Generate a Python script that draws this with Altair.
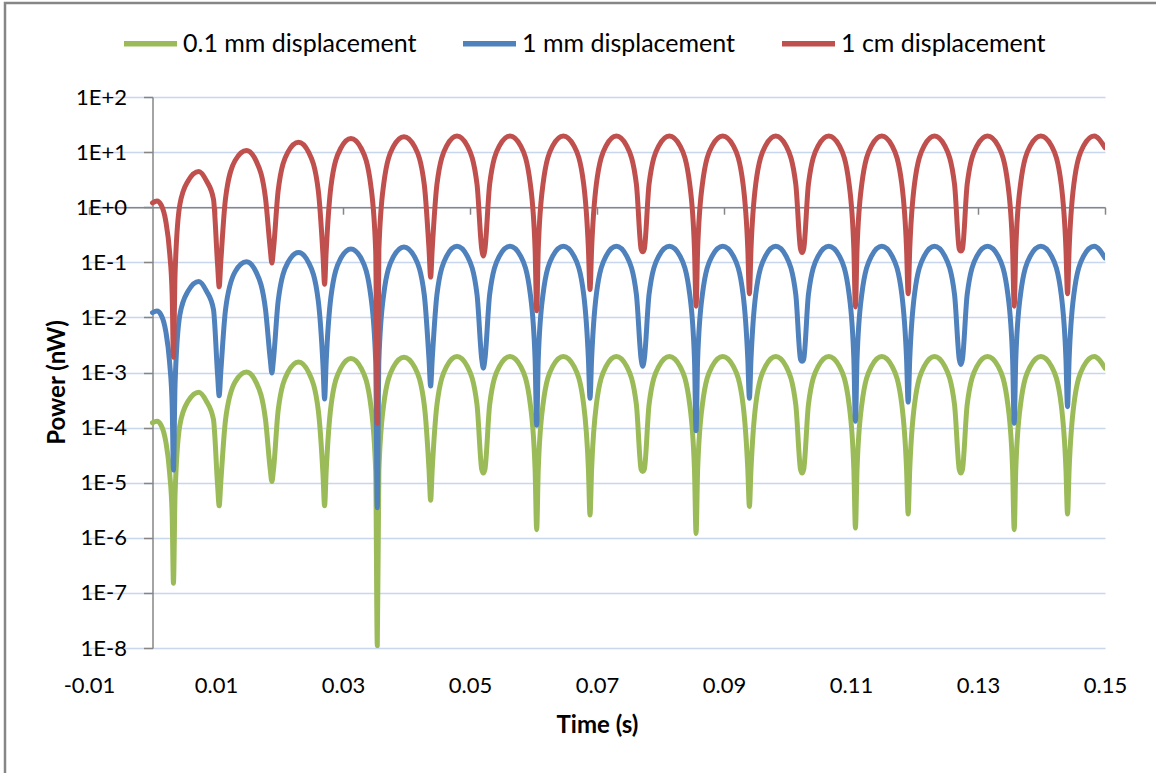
import altair as alt
import pandas as pd

# ---------------- data ----------------
SERIES = ["0.1 mm displacement", "1 mm displacement", "1 cm displacement"]
COLORS = ["#9BBB59", "#4F81BD", "#C0504D"]

TIME_S = [
    0.0, 0.0007, 0.0014, 0.0021, 0.0027, 0.0031,
    0.0033, 0.00355, 0.0043, 0.0056, 0.0073, 0.0085, 0.0096, 0.01025,
    0.0105, 0.01075, 0.0115, 0.0130, 0.0148, 0.0163, 0.0178, 0.01855,
    0.0188, 0.01905, 0.0198, 0.0213, 0.0230, 0.0246, 0.0261, 0.02685,
    0.0271, 0.02735, 0.0281, 0.0296, 0.03125, 0.0329, 0.0344, 0.03515,
    0.0354, 0.03565, 0.0364, 0.0379, 0.0396, 0.0413, 0.0428, 0.04355,
    0.0438, 0.04405, 0.0448, 0.0463, 0.04795, 0.0496, 0.0511, 0.05185,
    0.0521, 0.05235, 0.0531, 0.0546, 0.0563, 0.0580, 0.0595, 0.06025,
    0.0605, 0.06075, 0.0615, 0.0630, 0.0647, 0.0664, 0.0679, 0.06865,
    0.0689, 0.06915, 0.0699, 0.0714, 0.07305, 0.0747, 0.0762, 0.07695,
    0.0772, 0.07745, 0.0782, 0.0797, 0.0814, 0.0831, 0.0846, 0.08535,
    0.0856, 0.08585, 0.0866, 0.0881, 0.0898, 0.0915, 0.0930, 0.09375,
    0.0940, 0.09425, 0.0950, 0.0965, 0.09815, 0.0998, 0.1013, 0.10205,
    0.1023, 0.10255, 0.1033, 0.1048, 0.1065, 0.1082, 0.1097, 0.11045,
    0.1107, 0.11095, 0.1117, 0.1132, 0.11485, 0.1165, 0.1180, 0.11875,
    0.1190, 0.11925, 0.1200, 0.1215, 0.12315, 0.1248, 0.1263, 0.12705,
    0.1273, 0.12755, 0.1283, 0.1298, 0.1315, 0.1332, 0.1347, 0.13545,
    0.1357, 0.13595, 0.1367, 0.1382, 0.1399, 0.1416, 0.1431, 0.14385,
    0.1441, 0.14435, 0.1451, 0.1466, 0.1483, 0.1500,
]

POWER_01MM = [
    1.22e-4, 1.3e-4, 1.08e-4, 5.5e-5, 1.5e-5, 2.5e-6,
    1.5e-7, 6e-6, 1.1e-4, 3.0e-4, 4.4e-4, 3.0e-4, 1.4e-4, 9e-6,
    3.8e-6, 1e-5, 1.38e-4, 6.7e-4, 1.02e-3, 6.7e-4, 1.38e-4, 1.7e-5,
    1.05e-5, 1.7e-5, 2.1e-4, 1.0e-3, 1.55e-3, 1.0e-3, 2.1e-4, 1.4e-5,
    3.8e-6, 1.6e-5, 2.43e-4, 1.18e-3, 1.8e-3, 1.18e-3, 2.43e-4, 1.6e-5,
    1.1e-8, 1.69e-5, 2.57e-4, 1.24e-3, 1.9e-3, 1.24e-3, 2.57e-4, 1.69e-5,
    4.8e-6, 1.74e-5, 2.63e-4, 1.28e-3, 1.95e-3, 1.28e-3, 2.63e-4, 1.74e-5,
    1.5e-5, 1.74e-5, 2.63e-4, 1.28e-3, 1.95e-3, 1.28e-3, 2.63e-4, 1.74e-5,
    1.4e-6, 1.74e-5, 2.63e-4, 1.28e-3, 1.95e-3, 1.28e-3, 2.63e-4, 1.74e-5,
    2.6e-6, 1.74e-5, 2.63e-4, 1.28e-3, 1.95e-3, 1.28e-3, 2.63e-4, 1.74e-5,
    1.6e-5, 1.74e-5, 2.63e-4, 1.28e-3, 1.95e-3, 1.28e-3, 2.63e-4, 1.74e-5,
    1.2e-6, 1.74e-5, 2.63e-4, 1.28e-3, 1.95e-3, 1.28e-3, 2.63e-4, 1.74e-5,
    3.7e-6, 1.74e-5, 2.63e-4, 1.28e-3, 1.95e-3, 1.28e-3, 2.63e-4, 1.74e-5,
    1.5e-5, 1.74e-5, 2.63e-4, 1.28e-3, 1.95e-3, 1.28e-3, 2.63e-4, 1.74e-5,
    1.5e-6, 1.74e-5, 2.63e-4, 1.28e-3, 1.95e-3, 1.28e-3, 2.63e-4, 1.74e-5,
    2.7e-6, 1.74e-5, 2.63e-4, 1.28e-3, 1.95e-3, 1.28e-3, 2.63e-4, 1.74e-5,
    1.5e-5, 1.74e-5, 2.63e-4, 1.28e-3, 1.95e-3, 1.28e-3, 2.63e-4, 1.74e-5,
    1.4e-6, 1.74e-5, 2.63e-4, 1.28e-3, 1.95e-3, 1.28e-3, 2.63e-4, 1.74e-5,
    2.7e-6, 1.74e-5, 2.63e-4, 1.28e-3, 1.95e-3, 1.2e-3,
]

POWER_1MM = [
    0.0122, 0.013, 0.0108, 0.0055, 0.0015, 2.5e-4,
    1.7e-5, 6e-4, 0.011, 0.030, 0.045, 0.030, 0.014, 9e-4,
    3.8e-4, 1e-3, 0.0138, 0.067, 0.102, 0.067, 0.0138, 1.7e-3,
    9.8e-4, 1.7e-3, 0.0203, 0.098, 0.15, 0.098, 0.0203, 1.34e-3,
    3.3e-4, 1.56e-3, 0.0236, 0.115, 0.175, 0.115, 0.0236, 1.56e-3,
    3.5e-6, 1.69e-3, 0.0257, 0.124, 0.19, 0.124, 0.0257, 1.69e-3,
    5.7e-4, 1.74e-3, 0.0263, 0.128, 0.195, 0.128, 0.0263, 1.74e-3,
    1.2e-3, 1.74e-3, 0.0263, 0.128, 0.195, 0.128, 0.0263, 1.74e-3,
    1.1e-4, 1.74e-3, 0.0263, 0.128, 0.195, 0.128, 0.0263, 1.74e-3,
    3.4e-4, 1.74e-3, 0.0263, 0.128, 0.195, 0.128, 0.0263, 1.74e-3,
    1.3e-3, 1.74e-3, 0.0263, 0.128, 0.195, 0.128, 0.0263, 1.74e-3,
    8.8e-5, 1.74e-3, 0.0263, 0.128, 0.195, 0.128, 0.0263, 1.74e-3,
    3.4e-4, 1.74e-3, 0.0263, 0.128, 0.195, 0.128, 0.0263, 1.74e-3,
    1.6e-3, 1.74e-3, 0.0263, 0.128, 0.195, 0.128, 0.0263, 1.74e-3,
    1.3e-4, 1.74e-3, 0.0263, 0.128, 0.195, 0.128, 0.0263, 1.74e-3,
    2.9e-4, 1.74e-3, 0.0263, 0.128, 0.195, 0.128, 0.0263, 1.74e-3,
    1.4e-3, 1.74e-3, 0.0263, 0.128, 0.195, 0.128, 0.0263, 1.74e-3,
    1.2e-4, 1.74e-3, 0.0263, 0.128, 0.195, 0.128, 0.0263, 1.74e-3,
    2.4e-4, 1.74e-3, 0.0263, 0.128, 0.195, 0.12,
]

POWER_1CM = [
    1.2, 1.3, 1.08, 0.55, 0.15, 0.025,
    0.0019, 0.06, 1.1, 3.0, 4.45, 3.0, 1.4, 0.09,
    0.036, 0.1, 1.44, 7.0, 10.7, 7.0, 1.44, 0.17,
    0.097, 0.17, 2.04, 9.9, 15.1, 9.9, 2.04, 0.134,
    0.04, 0.157, 2.38, 11.5, 17.6, 11.5, 2.38, 0.157,
    0.00012, 0.169, 2.57, 12.4, 19.0, 12.4, 2.57, 0.169,
    0.054, 0.174, 2.63, 12.8, 19.5, 12.8, 2.63, 0.174,
    0.13, 0.174, 2.63, 12.8, 19.5, 12.8, 2.63, 0.174,
    0.0132, 0.174, 2.63, 12.8, 19.5, 12.8, 2.63, 0.174,
    0.032, 0.174, 2.63, 12.8, 19.5, 12.8, 2.63, 0.174,
    0.155, 0.174, 2.63, 12.8, 19.5, 12.8, 2.63, 0.174,
    0.016, 0.174, 2.63, 12.8, 19.5, 12.8, 2.63, 0.174,
    0.027, 0.174, 2.63, 12.8, 19.5, 12.8, 2.63, 0.174,
    0.15, 0.174, 2.63, 12.8, 19.5, 12.8, 2.63, 0.174,
    0.0155, 0.174, 2.63, 12.8, 19.5, 12.8, 2.63, 0.174,
    0.027, 0.174, 2.63, 12.8, 19.5, 12.8, 2.63, 0.174,
    0.16, 0.174, 2.63, 12.8, 19.5, 12.8, 2.63, 0.174,
    0.016, 0.174, 2.63, 12.8, 19.5, 12.8, 2.63, 0.174,
    0.027, 0.174, 2.63, 12.8, 19.5, 12.0,
]

X_TICKS = [-0.01, 0.01, 0.03, 0.05, 0.07, 0.09, 0.11, 0.13, 0.15]
Y_TICKS = [1e-8, 1e-7, 1e-6, 1e-5, 1e-4, 1e-3, 1e-2, 1e-1, 1e0, 1e1, 1e2]

# ---------------- table ----------------
rows = []
for name, vals in zip(SERIES, [POWER_01MM, POWER_1MM, POWER_1CM]):
    for i, (t, v) in enumerate(zip(TIME_S, vals)):
        rows.append({"series": name, "t": t, "p": v, "i": i})
df = pd.DataFrame(rows)

FONT = "Lato"
GRAY = "#868686"

x_scale = alt.Scale(domain=[-0.01, 0.15], nice=False, zero=False)
y_scale = alt.Scale(type="log", domain=[1e-8, 100], nice=False)
color_scale = alt.Scale(domain=SERIES, range=COLORS)

x_label_axis = alt.Axis(
    values=X_TICKS,
    labelExpr="(datum.value < 0 ? '-' : '') + format(abs(datum.value), '.2f')",
    domain=False, ticks=False, tickSize=0, grid=False, labelFlush=False,
    labelFont=FONT, labelFontSize=22, labelColor="#000", labelPadding=27,
    title="Time (s)", titleFont=FONT, titleFontSize=24, titleFontWeight="bold",
    titleColor="#000", titleY=77, titleBaseline="middle",
)
x_line_axis = alt.Axis(
    values=X_TICKS, orient="bottom", offset=-440.8,
    labels=False, grid=False, title=None,
    domain=True, domainColor=GRAY, domainWidth=1.5,
    ticks=True, tickColor=GRAY, tickWidth=1.5, tickSize=7,
)
y_axis = alt.Axis(
    values=Y_TICKS, offset=-63.5, labelFlush=False,
    labelExpr="'1E' + (datum.value >= 1 ? '+' : '-') + format(abs(round(log(datum.value) / LN10)), 'd')",
    domain=True, domainColor=GRAY, domainWidth=1.5,
    ticks=True, tickColor=GRAY, tickWidth=1.5, tickSize=9,
    labelFont=FONT, labelFontSize=22, labelColor="#000", labelPadding=17,
    grid=True, gridColor="#C8D6EE", gridWidth=1.5,
    title="Power (nW)", titleFont=FONT, titleFontSize=24, titleFontWeight="bold",
    titleColor="#000", titleX=-95, titleY=285, titleAngle=270,
    titleAlign="center", titleBaseline="middle",
)
legend = alt.Legend(
    title=None, orient="none", direction="horizontal", legendX=32, legendY=-83,
    symbolType="stroke", symbolSize=2809, symbolStrokeWidth=5.5,
    labelFont=FONT, labelFontSize=25, labelColor="#000", labelOffset=3,
    labelLimit=0, columnPadding=35,
)

base = alt.Chart(df).mark_line(
    interpolate="monotone", strokeWidth=5, strokeJoin="round", strokeCap="round", clip=True
)


def layer_for(name, xaxis):
    return base.transform_filter(alt.datum.series == name).encode(
        x=alt.X("t:Q", scale=x_scale, axis=xaxis),
        y=alt.Y("p:Q", scale=y_scale, axis=y_axis),
        color=alt.Color("series:N", scale=color_scale, legend=legend),
        order=alt.Order("i:Q"),
    )


green = layer_for(SERIES[0], x_label_axis)
blue = layer_for(SERIES[1], None)
red = layer_for(SERIES[2], x_line_axis)

border = alt.Chart(pd.DataFrame({"k": [0]})).mark_rect(
    fillOpacity=0, stroke=GRAY, strokeWidth=2.5
).encode(
    x=alt.value(-84), x2=alt.value(1200), y=alt.value(-94), y2=alt.value(900)
)

chart = alt.layer(green, blue, red, border).resolve_axis(x="independent").properties(
    width=1016, height=551,
    padding={"left": 89, "top": 97, "right": 51, "bottom": 125},
    autosize=alt.AutoSizeParams(type="none"),
    background="white",
).configure_view(stroke=None)

chart.save("out.html", embed_options={"renderer": "svg", "actions": False})
